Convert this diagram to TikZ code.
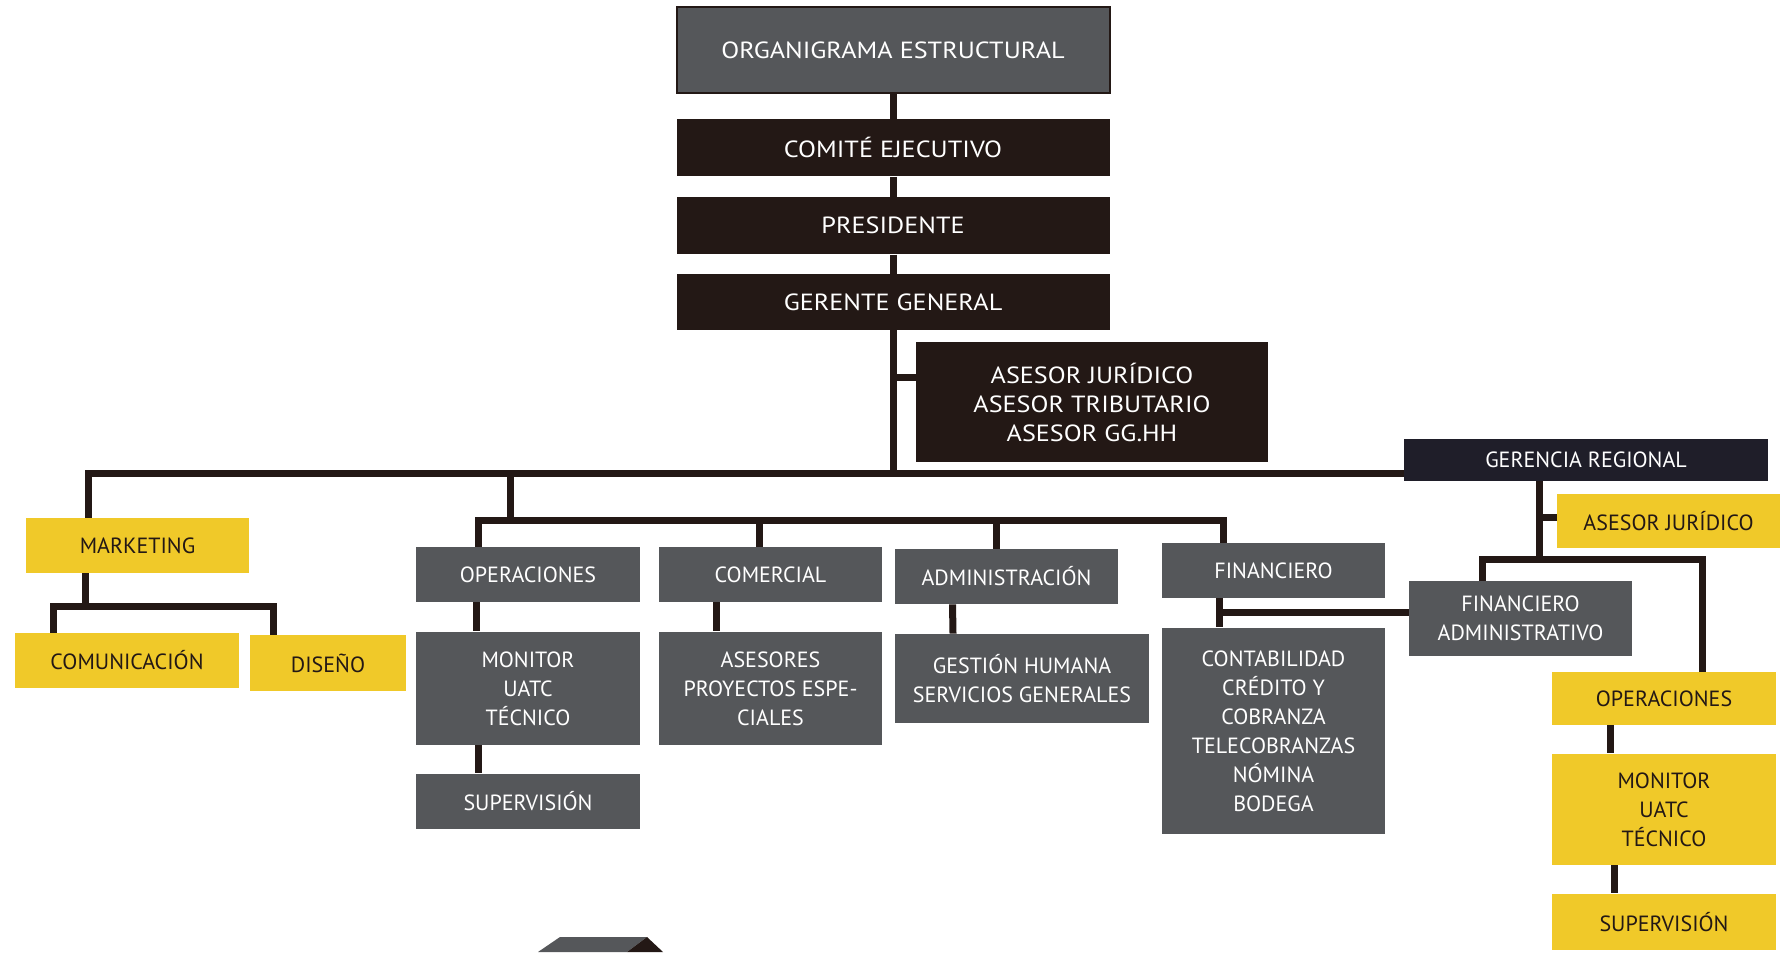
\documentclass[tikz,border=0pt]{standalone}
\usepackage{fontspec}
\setmainfont{PT Sans}
\newfontfamily\widefont[FakeStretch=1.12]{PT Sans}
\usetikzlibrary{positioning}
\definecolor{boxgray}{RGB}{85,87,90}
\definecolor{boxdark}{RGB}{35,24,21}
\definecolor{boxnavy}{RGB}{31,30,41}
\definecolor{boxyellow}{RGB}{240,201,41}
\definecolor{linedark}{RGB}{35,24,21}

\begin{document}
\begin{tikzpicture}[
    x=0.5pt, y=-0.5pt,
    box/.style={fill=#1, text=white, inner sep=2pt, align=center, font=\fontsize{11}{14.5}\selectfont},
    topbox/.style={box=#1, font=\widefont\fontsize{11.7}{14.5}\selectfont},
    ybox/.style={box=boxyellow, text=linedark},
    sz/.style 2 args={minimum width=#1*0.5pt, minimum height=#2*0.5pt},
    link/.style={draw=linedark, line width=3.5pt, line join=miter},
]
\clip (0,0) rectangle (1780,952);
\fill[white] (0,0) rectangle (1780,952);

% Top chain
\node[topbox=boxgray, draw=linedark, line width=1pt, sz={433}{86}] (title) at (893,50) {ORGANIGRAMA ESTRUCTURAL};
\node[topbox=boxdark, sz={433}{57}, below=12.5pt of title] (comite) {COMITÉ EJECUTIVO};
\node[topbox=boxdark, sz={433}{57}, below=10pt of comite] (pres) {PRESIDENTE};
\node[topbox=boxdark, sz={433}{56}, below=9.5pt of pres] (gerente) {GERENTE GENERAL};
\node[topbox=boxdark, sz={352}{120}] (asesores) at (1092,402) {ASESOR JURÍDICO\\ASESOR TRIBUTARIO\\ASESOR GG.HH};
\node[box=boxnavy, sz={364}{42}] (gerreg) at (1586,460) {GERENCIA REGIONAL};

% Marketing
\node[ybox, sz={223}{55}] (marketing) at (137.5,545.5) {MARKETING};
\node[ybox, sz={224}{55}] (comunic) at (127,660.5) {COMUNICACIÓN};
\node[ybox, sz={156}{56}] (diseno) at (328,663) {DISEÑO};

% Areas
\node[box=boxgray, sz={224}{55}] (ops) at (528,574.5) {OPERACIONES};
\node[box=boxgray, sz={224}{113}, below=14.5pt of ops] (monitor) {MONITOR\\UATC\\TÉCNICO};
\node[box=boxgray, sz={224}{55}, below=14pt of monitor] (superv) {SUPERVISIÓN};
\node[box=boxgray, sz={223}{55}] (comercial) at (770.5,574.5) {COMERCIAL};
\node[box=boxgray, sz={223}{113}, below=14.5pt of comercial] (proyectos) {ASESORES\\PROYECTOS ESPE-\\CIALES};
\node[box=boxgray, sz={223}{55}] (admin) at (1006.5,576.5) {ADMINISTRACIÓN};
\node[box=boxgray, sz={254}{89}] (gestion) at (1022,678.5) {GESTIÓN HUMANA\\SERVICIOS GENERALES};
\node[box=boxgray, sz={223}{55}] (finan) at (1273.5,570.5) {FINANCIERO};
\node[box=boxgray, sz={223}{206}, below=14.5pt of finan] (conta) {CONTABILIDAD\\CRÉDITO Y\\COBRANZA\\TELECOBRANZAS\\NÓMINA\\BODEGA};

% Regional
\node[ybox, sz={223}{54}] (asejur) at (1668.5,521) {ASESOR JURÍDICO};
\node[box=boxgray, sz={223}{75}] (finadm) at (1520.5,618.5) {FINANCIERO\\ADMINISTRATIVO};
\node[ybox, sz={224}{53}] (rops) at (1664,698.5) {OPERACIONES};
\node[ybox, sz={224}{111}, below=14pt of rops] (rmonitor) {MONITOR\\UATC\\TÉCNICO};
\node[ybox, sz={224}{56}, below=14pt of rmonitor] (rsuperv) {SUPERVISIÓN};

% Links: top chain and main bus
\draw[link] (title) -- (comite);
\draw[link] (comite) -- (pres);
\draw[link] (pres) -- (gerente);
\coordinate (bus) at (88,473);
\coordinate (advisor) at (893,377);
\draw[link] (gerente) -- (gerente |- bus);
\draw[link] (advisor) -- (advisor -| asesores.west);
\draw[link] (marketing.north -| bus) -- (bus) -- (bus -| gerreg.west);

% Links: marketing
\coordinate (mkbus) at (85,606);
\coordinate (mkL) at (53,606);
\coordinate (mkR) at (273,606);
\draw[link] (marketing.south -| mkbus) -- (mkbus);
\draw[link] (comunic.north -| mkL) -- (mkL) -- (mkR) -- (diseno.north -| mkR);

% Links: areas
\coordinate (opbus) at (510,520);
\coordinate (opL) at (478,520);
\coordinate (opR) at (1223,520);
\draw[link] (opbus |- bus) -- (opbus);
\draw[link] (ops.north -| opL) -- (opL) -- (opR) -- (finan.north -| opR);
\draw[link] ([xshift=-5.75pt]comercial.north) -- ([xshift=-5.75pt]comercial.north |- opL);
\draw[link] ([xshift=-5.25pt]admin.north) -- ([xshift=-5.25pt]admin.north |- opL);
\draw[link] ([xshift=-26pt]ops.south) -- ([xshift=-26pt]monitor.north);
\draw[link] ([xshift=-25pt]monitor.south) -- ([xshift=-25pt]superv.north);
\draw[link] ([xshift=-27pt]comercial.south) -- ([xshift=-27pt]proyectos.north);
\draw[link] ([xshift=-27pt]admin.south) -- ([xshift=-34.5pt]gestion.north);
\draw[link] ([xshift=-27pt]finan.south) -- ([xshift=-27pt]conta.north);
\coordinate (finlink) at (1219,612);
\draw[link] (finlink) -- (finlink -| finadm.west);

% Links: regional
\coordinate (regbus) at (1539,559);
\coordinate (regjur) at (1539,517);
\coordinate (rgL) at (1482,559);
\coordinate (rgR) at (1702,559);
\draw[link] (gerreg.south -| regbus) -- (regbus);
\draw[link] (regjur) -- (regjur -| asejur.west);
\draw[link] (finadm.north -| rgL) -- (rgL) -- (rgR) -- (rops.north -| rgR);
\draw[link] ([xshift=-27pt]rops.south) -- ([xshift=-27pt]rmonitor.north);
\draw[link] ([xshift=-25pt]rmonitor.south) -- ([xshift=-25pt]rsuperv.north);

% Cut-off block at the bottom
\fill[boxgray] (538,952) -- (560,937) -- (647,937) -- (627,952) -- cycle;
\fill[boxdark] (647,937) -- (663,952) -- (627,952) -- cycle;
\end{tikzpicture}
\end{document}
